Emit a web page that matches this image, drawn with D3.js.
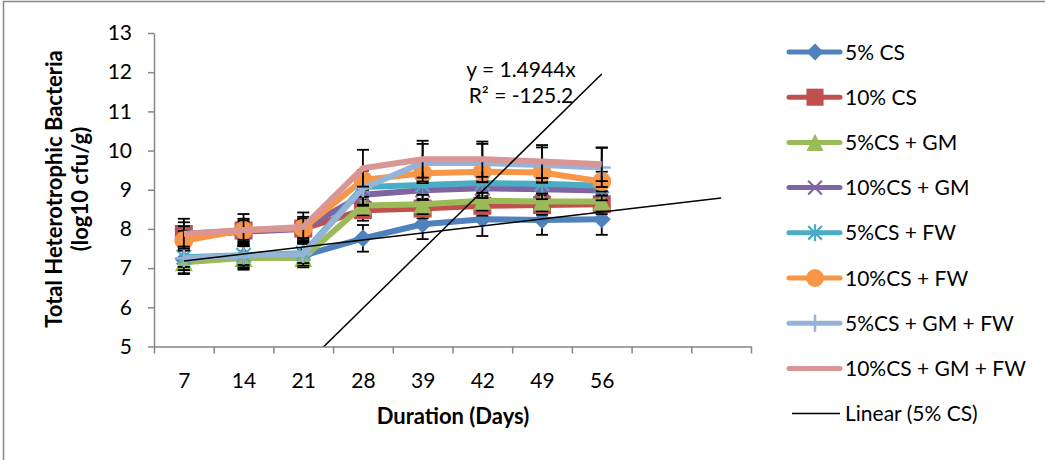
<!DOCTYPE html>
<html>
<head>
<meta charset="utf-8">
<script src="https://cdn.jsdelivr.net/npm/d3@7/dist/d3.min.js"></script>
<style>
    body { margin: 0; background: #fff; }
    text { font-family: Lato, 'Open Sans', sans-serif; fill: #000; }
</style>
</head>
<body>
<svg id="chart" width="1045" height="460"></svg>
<script>
// chart data
let days = ['7', '14', '21', '28', '39', '42', '49', '56']
let forecastPeriods = 2
let yTicks = [5, 6, 7, 8, 9, 10, 11, 12, 13]
let seriesNames = ['5% CS', '10% CS', '5%CS + GM', '10%CS + GM', '5%CS + FW', '10%CS + FW', '5%CS + GM + FW', '10%CS + GM + FW']

let cs5 = [7.22, 7.30, 7.32, 7.76, 8.12, 8.25, 8.23, 8.25]
let cs10 = [7.87, 7.96, 8.01, 8.48, 8.52, 8.59, 8.61, 8.63]
let cs5gm = [7.15, 7.26, 7.26, 8.60, 8.63, 8.72, 8.70, 8.70]
let cs10gm = [7.82, 7.93, 8.00, 8.87, 8.99, 9.04, 9.01, 8.98]
let cs5fw = [7.28, 7.33, 7.38, 9.07, 9.12, 9.17, 9.15, 9.10]
let cs10fw = [7.70, 7.97, 8.02, 9.25, 9.42, 9.46, 9.44, 9.21]
let cs5gmfw = [7.25, 7.32, 7.36, 9.04, 9.69, 9.68, 9.63, 9.57]
let cs10gmfw = [7.88, 7.97, 8.05, 9.55, 9.78, 9.78, 9.72, 9.65]

let cs5Err = [0.35, 0.30, 0.30, 0.34, 0.38, 0.43, 0.38, 0.40]
let cs10Err = [0.30, 0.30, 0.30, 0.27, 0.25, 0.25, 0.25, 0.25]
let cs5gmErr = [0.30, 0.30, 0.22, 0.25, 0.25, 0.25, 0.25, 0.25]
let cs10gmErr = [0.25, 0.25, 0.25, 0.25, 0.25, 0.25, 0.25, 0.25]
let cs5fwErr = [0.25, 0.25, 0.25, 0.25, 0.25, 0.25, 0.25, 0.25]
let cs10fwErr = [0.25, 0.25, 0.25, 0.25, 0.25, 0.25, 0.25, 0.25]
let cs5gmfwErr = [0.30, 0.30, 0.30, 0.45, 0.48, 0.49, 0.45, 0.50]
let cs10gmfwErr = [0.38, 0.41, 0.37, 0.47, 0.47, 0.45, 0.42, 0.43]

// second (forced through zero) trendline and its label
let zeroSlope = 1.4944
let zeroLabel = ['y = 1.4944x', 'R\u00b2 = -125.2']
let trendName = 'Linear (5% CS)'

let seriesValues = [cs5, cs10, cs5gm, cs10gm, cs5fw, cs10fw, cs5gmfw, cs10gmfw]
let seriesErrors = [cs5Err, cs10Err, cs5gmErr, cs10gmErr, cs5fwErr, cs10fwErr, cs5gmfwErr, cs10gmfwErr]
let colors = ['#4f81bd', '#c0504d', '#9bbb59', '#8064a2', '#4bacc6', '#f79646', '#95b3d7', '#d99694']
let markers = ['diamond', 'square', 'triangle', 'x', 'star', 'circle', 'plus', 'none']

let series = seriesNames.map((name, i) => ({
    name: name,
    values: seriesValues[i],
    errors: seriesErrors[i],
    color: colors[i],
    marker: markers[i]
}))

let svg = d3.select('#chart')
let plotLeft = 154
let plotRight = 751
let plotTop = 33
let plotBottom = 346.5
let axisColor = '#868686'

// outer chart frame
svg.append('rect')
    .attr('x', 3.5)
    .attr('y', 1.5)
    .attr('width', 1100)
    .attr('height', 500)
    .attr('fill', 'none')
    .attr('stroke', axisColor)
    .attr('stroke-width', 1.5)

let nCats = days.length + forecastPeriods
let x = d3.scaleLinear().domain([0.5, nCats + 0.5]).range([plotLeft, plotRight])
let y = d3.scaleLinear().domain([5, 13]).range([plotBottom, plotTop])

svg.append('defs').append('clipPath')
    .attr('id', 'plotClip')
    .append('rect')
    .attr('x', plotLeft)
    .attr('y', plotTop)
    .attr('width', plotRight - plotLeft)
    .attr('height', plotBottom - plotTop)

// axes
let yAxis = svg.append('g')
    .attr('transform', 'translate(' + plotLeft + ',0)')
    .call(d3.axisLeft(y).tickValues(yTicks).tickSize(6).tickSizeOuter(0).tickPadding(16))
yAxis.selectAll('text').attr('font-size', '21px').attr('font-family', 'Lato, sans-serif')

let xAxis = svg.append('g')
    .attr('transform', 'translate(0,' + plotBottom + ')')
    .call(d3.axisBottom(x).tickValues(d3.range(0.5, nCats + 1, 1)).tickSize(7).tickSizeOuter(0).tickFormat(''))

let xLabels = svg.append('g')
    .attr('transform', 'translate(0,' + plotBottom + ')')
    .call(d3.axisBottom(x).tickValues(d3.range(1, days.length + 1)).tickSize(0).tickPadding(27).tickFormat(d => days[d - 1]))
xLabels.select('.domain').remove()
xLabels.selectAll('text').attr('font-size', '21px').attr('font-family', 'Lato, sans-serif')

svg.selectAll('.domain, .tick line').attr('stroke', axisColor).attr('stroke-width', 1.5)

// axis titles
svg.append('text')
    .attr('transform', 'translate(62,189) rotate(-90)')
    .attr('text-anchor', 'middle')
    .attr('font-size', '22px')
    .attr('font-weight', 'bold')
    .text('Total Heterotrophic Bacteria')
svg.append('text')
    .attr('transform', 'translate(88,189) rotate(-90)')
    .attr('text-anchor', 'middle')
    .attr('font-size', '22px')
    .attr('font-weight', 'bold')
    .text('(log10 cfu/g)')
svg.append('text')
    .attr('x', 453)
    .attr('y', 424)
    .attr('text-anchor', 'middle')
    .attr('font-size', '22px')
    .attr('font-weight', 'bold')
    .text('Duration (Days)')

function drawMarker (g, type, color, s) {
    let r = 9 * s
    if (type === 'diamond') {
        g.append('path').attr('d', 'M0,' + (-r) + 'L' + r + ',0L0,' + r + 'L' + (-r) + ',0Z').attr('fill', color)
    } else if (type === 'square') {
        g.append('rect').attr('x', -r).attr('y', -r).attr('width', 2 * r).attr('height', 2 * r).attr('fill', color)
    } else if (type === 'triangle') {
        g.append('path').attr('d', 'M0,' + (-r) + 'L' + r + ',' + r + 'L' + (-r) + ',' + r + 'Z').attr('fill', color)
    } else if (type === 'circle') {
        g.append('circle').attr('r', r * 1.05).attr('fill', color)
    } else if (type === 'x' || type === 'star') {
        let k = r * 0.8
        g.append('path')
            .attr('d', 'M' + (-k) + ',' + (-k) + 'L' + k + ',' + k + 'M' + (-k) + ',' + k + 'L' + k + ',' + (-k) +
                (type === 'star' ? 'M0,' + (-r) + 'L0,' + r : ''))
            .attr('stroke', color)
            .attr('stroke-width', 2.2)
            .attr('fill', 'none')
    } else if (type === 'plus') {
        g.append('path')
            .attr('d', 'M0,' + (-r) + 'L0,' + r + 'M' + (-r) + ',0L' + r + ',0')
            .attr('stroke', color)
            .attr('stroke-width', 2.5)
            .attr('fill', 'none')
    }
}

let line = d3.line().x((d, i) => x(i + 1)).y(d => y(d))

// series, drawn in order: error bars, line, markers
series.forEach(s => {
    let g = svg.append('g').attr('class', 'series')
    let err = g.append('g').selectAll('g')
        .data(s.values)
        .enter()
        .append('g')
        .attr('transform', (d, i) => 'translate(' + x(i + 1) + ',0)')
    err.append('line')
        .attr('y1', (d, i) => y(d - s.errors[i]))
        .attr('y2', (d, i) => y(d + s.errors[i]))
        .attr('stroke', '#000')
        .attr('stroke-width', 1.8)
    err.append('line')
        .attr('x1', -6).attr('x2', 6)
        .attr('y1', (d, i) => y(d + s.errors[i]))
        .attr('y2', (d, i) => y(d + s.errors[i]))
        .attr('stroke', '#000')
        .attr('stroke-width', 1.8)
    err.append('line')
        .attr('x1', -6).attr('x2', 6)
        .attr('y1', (d, i) => y(d - s.errors[i]))
        .attr('y2', (d, i) => y(d - s.errors[i]))
        .attr('stroke', '#000')
        .attr('stroke-width', 1.8)
    g.append('path')
        .attr('d', line(s.values))
        .attr('fill', 'none')
        .attr('stroke', s.color)
        .attr('stroke-width', 6)
        .attr('stroke-linejoin', 'round')
    g.append('g').selectAll('g')
        .data(s.values)
        .enter()
        .append('g')
        .attr('transform', (d, i) => 'translate(' + x(i + 1) + ',' + y(d) + ')')
        .each(function () { drawMarker(d3.select(this), s.marker, s.color, 1) })
})

// Linear (5% CS) trendline with forward forecast
let xs = cs5.map((d, i) => i + 1)
let mx = d3.mean(xs)
let my = d3.mean(cs5)
let slope = d3.sum(xs, (v, i) => (v - mx) * (cs5[i] - my)) / d3.sum(xs, v => (v - mx) * (v - mx))
let intercept = my - slope * mx
let trendX = [1, nCats]
svg.append('path')
    .attr('d', d3.line().x(d => x(d)).y(d => y(intercept + slope * d))(trendX))
    .attr('fill', 'none')
    .attr('stroke', '#000')
    .attr('stroke-width', 1.5)

// trendline through origin
svg.append('path')
    .attr('clip-path', 'url(#plotClip)')
    .attr('d', d3.line().x(d => x(d)).y(d => y(zeroSlope * d))([1, days.length]))
    .attr('fill', 'none')
    .attr('stroke', '#000')
    .attr('stroke-width', 1.5)

svg.append('g').selectAll('text')
    .data(zeroLabel)
    .enter()
    .append('text')
    .attr('x', 521)
    .attr('y', (d, i) => 77 + i * 26)
    .attr('text-anchor', 'middle')
    .attr('font-size', '21px')
    .text(d => d)

// legend
let legendItems = series.concat([{ name: trendName, color: '#000', marker: 'none', trend: true }])
let legend = svg.append('g').selectAll('g')
    .data(legendItems)
    .enter()
    .append('g')
    .attr('transform', (d, i) => 'translate(789,' + (52 + i * 45.2) + ')')
legend.append('line')
    .attr('x1', d => d.trend ? 3 : 0)
    .attr('x2', 51)
    .attr('stroke', d => d.color)
    .attr('stroke-width', d => d.trend ? 1.5 : 5)
    .attr('stroke-linecap', d => d.trend ? 'butt' : 'round')
legend.each(function (d) {
    if (!d.trend) {
        let m = d3.select(this).append('g').attr('transform', 'translate(26,0)')
        drawMarker(m, d.marker, d.color, 0.95)
    }
})
legend.append('text')
    .attr('x', 56)
    .attr('y', 7.5)
    .attr('font-size', '21px')
    .text(d => d.name)
</script>
</body>
</html>
